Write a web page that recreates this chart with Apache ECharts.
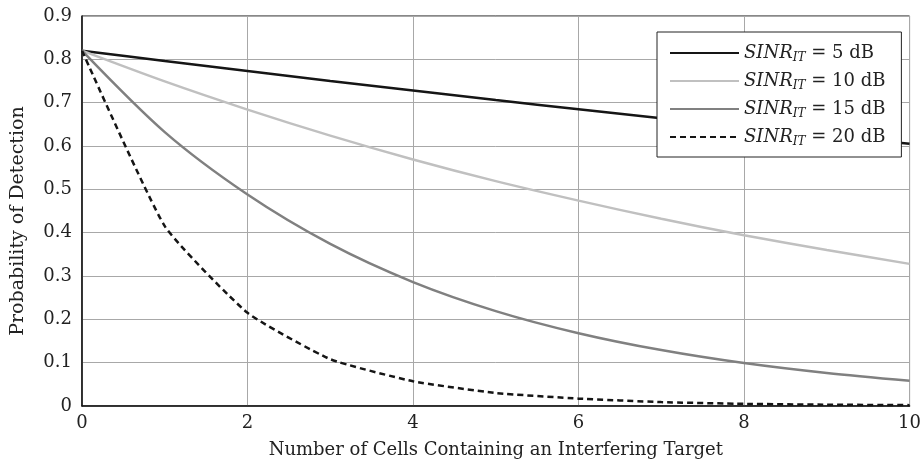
<!DOCTYPE html>
<html>
<head>
<meta charset="utf-8">
<script src="https://cdn.jsdelivr.net/npm/echarts@6/dist/echarts.min.js"></script>
<style>html,body{margin:0;padding:0;background:#fff}#c{width:924px;height:464px}</style>
</head>
<body>
<div id="c"></div>
<script>
var xCells = [0, 1, 2, 3, 4, 5, 6, 7, 8, 9, 10];
var sinr5 = [0.82, 0.796, 0.773, 0.750, 0.728, 0.706, 0.685, 0.664, 0.644, 0.624, 0.605];
var sinr10 = [0.82, 0.749, 0.684, 0.624, 0.569, 0.519, 0.474, 0.432, 0.394, 0.360, 0.328];
var sinr15 = [0.82, 0.632, 0.488, 0.374, 0.286, 0.219, 0.168, 0.129, 0.099, 0.076, 0.058];
var sinr20 = [0.82, 0.415, 0.215, 0.108, 0.057, 0.030, 0.017, 0.009, 0.005, 0.003, 0.002];
var seriesNames = ['5', '10', '15', '20'];
var yTicks = ['0', '0.1', '0.2', '0.3', '0.4', '0.5', '0.6', '0.7', '0.8', '0.9'];

function pairs(vals) { return xCells.map(function (x, i) { return [x, vals[i]]; }); }
var FONT = 'DejaVu Serif';
var chart = echarts.init(document.getElementById('c'), null, { renderer: 'canvas' });
var styles = [
  { color: '#151515', type: 'solid', smooth: 0.3 },
  { color: '#c0c0c0', type: 'solid', smooth: 0.3 },
  { color: '#808080', type: 'solid', smooth: 0.3 },
  { color: '#151515', type: [6, 4], smooth: 0.15 }
];
var datas = [sinr5, sinr10, sinr15, sinr20];
chart.setOption({
  animation: false,
  backgroundColor: '#fff',
  grid: { left: 82, right: 8, top: 16, bottom: 57, show: true, borderColor: '#111', borderWidth: 1 },
  xAxis: {
    type: 'value', min: 0, max: 10, interval: 2,
    name: 'Number of Cells Containing an Interfering Target',
    nameLocation: 'middle', nameGap: 35,
    nameTextStyle: { fontFamily: FONT, fontSize: 18, color: '#222' },
    axisLine: { show: true, lineStyle: { color: '#111', width: 1.5 } },
    axisTick: { show: false },
    axisLabel: { fontFamily: FONT, fontSize: 18, color: '#222', margin: 8 },
    splitLine: { show: true, lineStyle: { color: '#a8a8a8', width: 1 } }
  },
  yAxis: {
    type: 'value', min: 0, max: 0.9, interval: 0.1,
    name: 'Probability of Detection',
    nameLocation: 'middle', nameGap: 54,
    nameTextStyle: { fontFamily: FONT, fontSize: 19, color: '#222', padding: [0, 20, 0, 0] },
    axisLine: { show: true, lineStyle: { color: '#111', width: 1.5 } },
    axisTick: { show: false },
    axisLabel: {
      fontFamily: FONT, fontSize: 18, color: '#222', margin: 10,
      formatter: function (v) { return yTicks[Math.round(v * 10)]; }
    },
    splitLine: { show: true, lineStyle: { color: '#a8a8a8', width: 1 } }
  },
  legend: {
    orient: 'vertical', left: 657, top: 32, z: 20,
    backgroundColor: '#fff', borderColor: '#222', borderWidth: 1,
    padding: [10, 16, 9, 12],
    itemWidth: 69, itemHeight: 14, itemGap: 6,
    itemStyle: { opacity: 0 },
    data: seriesNames.map(function (n) { return 'SINR' + n; }),
    formatter: function (name) {
      return '{i|SINR}{s|IT}{t| = ' + name.replace('SINR', '') + ' dB}';
    },
    textStyle: {
      fontFamily: FONT, fontSize: 18, color: '#222', lineHeight: 22,
      rich: {
        i: { fontFamily: FONT, fontSize: 18, fontStyle: 'italic', color: '#222', lineHeight: 22 },
        s: { fontFamily: FONT, fontSize: 12, fontStyle: 'italic', color: '#222', verticalAlign: 'bottom', lineHeight: 22, padding: [9, 0, 0, 0] },
        t: { fontFamily: FONT, fontSize: 18, color: '#222', lineHeight: 22 }
      }
    }
  },
  series: datas.map(function (d, i) {
    return {
      name: 'SINR' + seriesNames[i],
      type: 'line', symbol: 'none', smooth: styles[i].smooth,
      data: pairs(d),
      lineStyle: { color: styles[i].color, width: 2.5, type: styles[i].type },
      itemStyle: { color: styles[i].color }
    };
  })
});
</script>
</body>
</html>
